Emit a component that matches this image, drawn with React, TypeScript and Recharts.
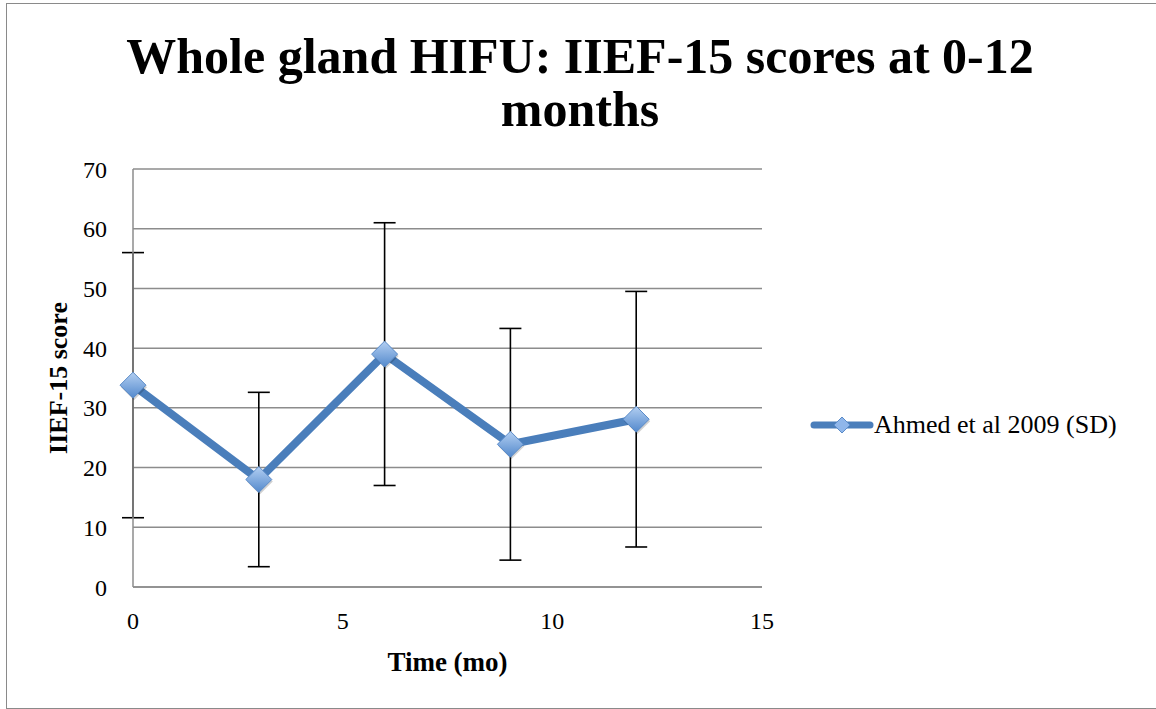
import React from 'react';
import { ComposedChart, Line, XAxis, YAxis, CartesianGrid, ErrorBar, Legend } from 'recharts';

const months = [0, 3, 6, 9, 12];
const iiefScores = [33.8, 18, 39, 23.9, 28.1];
const iiefSd = [22.2, 14.6, 22, 19.4, 21.4];
const xTicks = [0, 5, 10, 15];
const yTicks = [0, 10, 20, 30, 40, 50, 60, 70];
const seriesName = 'Ahmed et al 2009 (SD)';

const data = months.map((m, i) => ({ month: m, score: iiefScores[i], sd: iiefSd[i] }));

const FONT = '"Liberation Serif", "DejaVu Serif", serif';
const BLUE = '#4a7ebb';
const GRID = '#8c8c8c';

const Diamond = (props: any) => {
  const { cx, cy, index } = props;
  if (cx == null || cy == null) return null;
  const r = 13;
  const id = `diamondGrad${index}`;
  const pts = (dx: number, dy: number) =>
    `${cx + dx},${cy - r + dy} ${cx + r + dx},${cy + dy} ${cx + dx},${cy + r + dy} ${cx - r + dx},${cy + dy}`;
  return (
    <g key={id}>
      <defs>
        <linearGradient id={id} x1="0" y1="0" x2="0" y2="1">
          <stop offset="0%" stopColor="#b3cff2" />
          <stop offset="100%" stopColor="#5389cc" />
        </linearGradient>
      </defs>
      <polygon points={pts(1, 2)} fill="#000" opacity={0.18} />
      <polygon points={pts(0, 0)} fill={`url(#${id})`} stroke="#5a8bc8" strokeWidth={1} />
    </g>
  );
};

const YTitle = (props: any) => {
  const { viewBox } = props;
  const cx = viewBox.x + 25;
  const cy = viewBox.y + viewBox.height / 2;
  return (
    <text x={cx} y={cy} transform={`rotate(-90 ${cx} ${cy})`} textAnchor="middle" dominantBaseline="central"
      fontFamily={FONT} fontWeight="bold" fontSize={26} fill="#000">
      IIEF-15 score
    </text>
  );
};

const XTitle = (props: any) => {
  const { viewBox } = props;
  const cx = viewBox.x + viewBox.width / 2;
  const cy = viewBox.y + 75;
  return (
    <text x={cx} y={cy} textAnchor="middle" dominantBaseline="central"
      fontFamily={FONT} fontWeight="bold" fontSize={27} fill="#000">
      Time (mo)
    </text>
  );
};

const LegendContent = () => (
  <div style={{ display: 'flex', alignItems: 'center', fontFamily: FONT, fontSize: 26, color: '#000', whiteSpace: 'nowrap' }}>
    <svg width={64} height={24}>
      <line x1={4} y1={12} x2={60} y2={12} stroke={BLUE} strokeWidth={7} strokeLinecap="round" />
      <polygon points="32,4 40,12 32,20 24,12" fill="#8fb6ea" stroke="#5a8bc8" strokeWidth={1} />
    </svg>
    <span>{seriesName}</span>
  </div>
);

export default function App() {
  return (
    <div style={{ position: 'absolute', left: 0, top: 0, width: 1156, height: 709, background: '#fff', overflow: 'hidden' }}>
      <div style={{ position: 'absolute', left: 6, top: 3, width: 1170, height: 706, border: '1.5px solid #8a8a8a', boxSizing: 'border-box' }} />
      <div style={{ position: 'absolute', left: 0, top: 30, width: 1160, textAlign: 'center', fontFamily: FONT, fontWeight: 'bold', fontSize: 50, lineHeight: '53px', color: '#000' }}>
        Whole gland HIFU: IIEF-15 scores at 0-12<br />months
      </div>
      <ComposedChart width={1156} height={709} data={data} margin={{ top: 169, right: 394, bottom: 32, left: 33 }}>
        <CartesianGrid vertical={false} stroke={GRID} strokeWidth={1.5} />
        <XAxis dataKey="month" type="number" domain={[0, 15]} ticks={xTicks} height={90}
          axisLine={{ stroke: GRID, strokeWidth: 1.5 }} tickLine={false} tickSize={0} tickMargin={25}
          tick={{ fontFamily: FONT, fontSize: 24, fill: '#000' }} label={<XTitle />} />
        <YAxis type="number" domain={[0, 70]} ticks={yTicks} width={100}
          axisLine={{ stroke: GRID, strokeWidth: 1.5 }} tickLine={false} tickSize={0} tickMargin={26}
          tick={{ fontFamily: FONT, fontSize: 24, fill: '#000' }} label={<YTitle />} />
        <Legend content={<LegendContent />} layout="horizontal" verticalAlign="middle" align="center"
          wrapperStyle={{ position: 'absolute', left: 810, top: 410, width: 'auto' }} />
        <Line dataKey="score" name={seriesName} stroke={BLUE} strokeWidth={8} dot={<Diamond />} activeDot={false}
          isAnimationActive={false} strokeLinejoin="miter">
          <ErrorBar dataKey="sd" width={11} stroke="#000" strokeWidth={1.6} direction="y" />
        </Line>
      </ComposedChart>
    </div>
  );
}
